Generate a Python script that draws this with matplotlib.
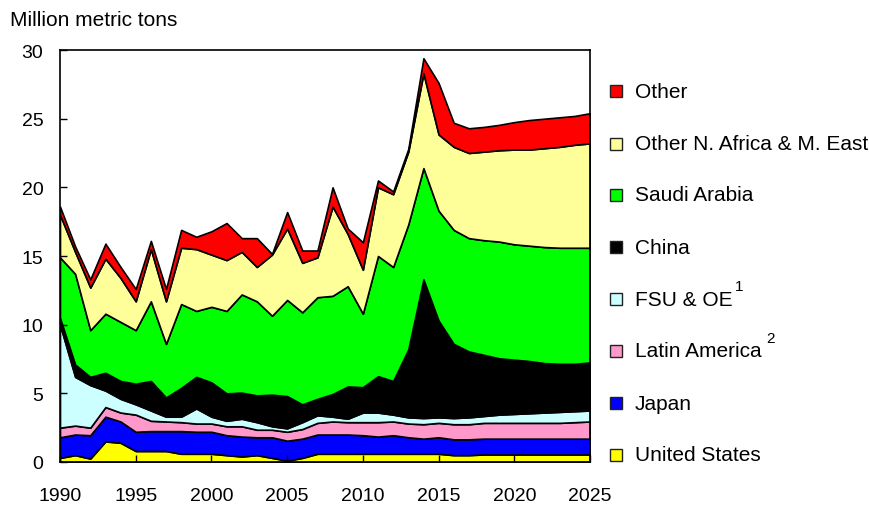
import numpy as np
import matplotlib.pyplot as plt
from matplotlib.patches import Rectangle

plt.rcParams['font.family'] = ['Liberation Sans', 'DejaVu Sans']

years = list(range(1990, 2026))

united_states = [0.3, 0.5, 0.25, 1.5, 1.4, 0.8, 0.8, 0.8, 0.6, 0.6, 0.6, 0.5, 0.4, 0.5, 0.3, 0.1, 0.3, 0.6,
                 0.6, 0.6, 0.6, 0.6, 0.6, 0.6, 0.6, 0.6, 0.5, 0.5, 0.55, 0.55, 0.55, 0.55, 0.55, 0.55, 0.55, 0.55]
japan = [1.5, 1.5, 1.7, 1.8, 1.55, 1.4, 1.45, 1.45, 1.65, 1.6, 1.6, 1.45, 1.45, 1.3, 1.5, 1.45, 1.4, 1.4,
         1.4, 1.4, 1.35, 1.25, 1.35, 1.2, 1.1, 1.2, 1.15, 1.15, 1.15, 1.15, 1.15, 1.15, 1.15, 1.15, 1.15, 1.15]
latin_america = [0.7, 0.65, 0.55, 0.7, 0.65, 1.25, 0.75, 0.7, 0.65, 0.6, 0.6, 0.65, 0.75, 0.55, 0.55, 0.65, 0.7, 0.85,
                 0.95, 0.9, 0.95, 1.05, 1.0, 1.0, 1.05, 1.05, 1.1, 1.1, 1.15, 1.15, 1.15, 1.15, 1.15, 1.15, 1.2, 1.25]
fsu_oe = [7.5, 3.55, 3.1, 1.2, 1.0, 0.75, 0.75, 0.35, 0.4, 1.1, 0.5, 0.4, 0.55, 0.55, 0.25, 0.25, 0.5, 0.55,
          0.35, 0.25, 0.7, 0.7, 0.5, 0.45, 0.45, 0.4, 0.45, 0.5, 0.5, 0.6, 0.65, 0.7, 0.75, 0.8, 0.8, 0.8]
china = [0.5, 0.9, 0.6, 1.3, 1.3, 1.5, 2.15, 1.4, 2.1, 2.3, 2.5, 2.0, 1.9, 1.95, 2.3, 2.35, 1.3, 1.2,
         1.65, 2.35, 1.85, 2.65, 2.45, 4.95, 10.1, 7.05, 5.4, 4.8, 4.45, 4.1, 3.95, 3.8, 3.6, 3.5, 3.45, 3.5]
saudi_arabia = [4.4, 6.6, 3.4, 4.3, 4.3, 3.9, 5.8, 3.9, 6.1, 4.8, 5.5, 6.0, 7.15, 6.85, 5.75, 7.0, 6.7, 7.4,
                7.15, 7.3, 5.35, 8.75, 8.3, 9.1, 8.1, 8.0, 8.3, 8.25, 8.35, 8.5, 8.4, 8.4, 8.45, 8.45, 8.45, 8.35]
other_name = [3.1, 1.6, 3.1, 4.0, 3.2, 2.1, 3.8, 3.1, 4.1, 4.5, 3.8, 3.7, 3.1, 2.5, 4.45, 5.2, 3.6, 2.9,
              6.5, 3.8, 3.2, 5.0, 5.3, 5.3, 6.9, 5.55, 6.05, 6.2, 6.45, 6.65, 6.9, 7.0, 7.2, 7.35, 7.5, 7.6]
other = [0.6, 0.4, 0.6, 1.1, 0.8, 0.9, 0.6, 0.9, 1.3, 0.9, 1.7, 2.7, 1.0, 2.1, 0.05, 1.2, 0.9, 0.5,
         1.4, 0.4, 2.0, 0.5, 0.2, 0.2, 1.1, 3.75, 1.75, 1.8, 1.8, 1.85, 2.0, 2.15, 2.15, 2.15, 2.1, 2.2]

series = [united_states, japan, latin_america, fsu_oe, china, saudi_arabia, other_name, other]
labels = ["United States", "Japan", "Latin America", "FSU & OE", "China", "Saudi Arabia",
          "Other N. Africa & M. East", "Other"]
supers = ["", "", "2", "1", "", "", "", ""]
colors = ['#ffff00', '#0000ff', '#ff99cc', '#ccffff', '#000000', '#00ff00', '#ffff99', '#ff0000']

fig = plt.figure(figsize=(8.7, 5.06), dpi=100)
ax = fig.add_axes([60 / 870, 43 / 506, 530 / 870, 412 / 506])

ax.stackplot(years, *series, colors=colors, edgecolor='black', linewidth=1.2)

ax.set_xlim(1990, 2025)
ax.set_ylim(0, 30)
ax.set_xticks(range(1990, 2026, 5))
ax.set_yticks(range(0, 31, 5))
ax.tick_params(direction='in', length=5, width=1, labelsize=14)
ax.tick_params(axis='x', pad=18)
ax.tick_params(axis='y', pad=12)
for s in ax.spines.values():
    s.set_linewidth(1.2)

fig.text(10 / 870, 1 - 20 / 506, "Million metric tons", fontsize=15, va='center', ha='left')

# legend, drawn by hand
ys = [456, 404, 352, 300, 248, 196, 145, 92]
for lab, sup, col, y in zip(labels, supers, colors, ys):
    fig.patches.append(Rectangle((610 / 870, 1 - (y + 6) / 506), 12 / 870, 12 / 506,
                                 transform=fig.transFigure, facecolor=col, edgecolor='#222222', lw=1))
    t = fig.text(635 / 870, 1 - y / 506, lab, fontsize=15, va='center', ha='left')
    if sup:
        fig.canvas.draw()
        bb = t.get_window_extent()
        gap = 5 if sup == "2" else 2
        fig.text((bb.x1 + gap) / 870, 1 - (y - 13) / 506, sup, fontsize=11, va='center', ha='left')

fig.savefig('out.png', dpi=100)
